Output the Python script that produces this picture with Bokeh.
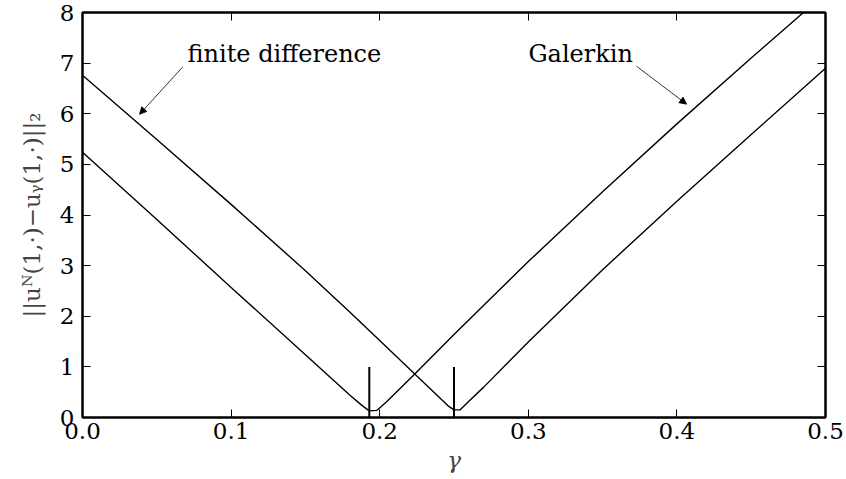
from bokeh.plotting import figure
from bokeh.models import Range1d, LinearAxis, FixedTicker, Label, Arrow, NormalHead, PrintfTickFormatter
from bokeh.embed import file_html
from bokeh.resources import INLINE

# Galerkin error curve
gal_x = [0.0, 0.05, 0.10, 0.15, 0.18, 0.188, 0.193, 0.198, 0.205, 0.2236, 0.25, 0.30, 0.35, 0.40, 0.45, 0.50]
gal_y = [5.24, 3.91, 2.57, 1.24, 0.44, 0.24, 0.13, 0.14, 0.32, 0.86, 1.64, 3.08, 4.46, 5.80, 7.10, 8.38]

# finite difference error curve
fd_x = [0.0, 0.05, 0.10, 0.15, 0.18, 0.20, 0.2236, 0.24, 0.246, 0.25, 0.254, 0.26, 0.27, 0.30, 0.35, 0.40, 0.45, 0.50]
fd_y = [6.76, 5.49, 4.21, 2.90, 2.08, 1.52, 0.86, 0.40, 0.23, 0.15, 0.15, 0.32, 0.60, 1.49, 2.92, 4.27, 5.59, 6.90]

# optimal gamma markers
mark_x = [0.193, 0.25]
mark_top = [1.0, 1.0]

x_ticks = [0.0, 0.1, 0.2, 0.3, 0.4, 0.5]
y_ticks = [0, 1, 2, 3, 4, 5, 6, 7, 8]

FONT = "DejaVu Serif"
FS = "23px"

p = figure(width=844, height=476, output_backend="svg", toolbar_location=None,
           x_range=Range1d(0, 0.5), y_range=Range1d(0, 8),
           min_border_left=82, min_border_right=19, min_border_top=12, min_border_bottom=59)
p.grid.visible = False
p.outline_line_color = "black"
p.outline_line_width = 2
p.background_fill_color = "white"
p.border_fill_color = "white"

p.line(gal_x, gal_y, line_color="black", line_width=1.4)
p.line(fd_x, fd_y, line_color="black", line_width=1.4)
p.segment(x0=mark_x, y0=[0, 0], x1=mark_x, y1=mark_top, line_color="black", line_width=2)

def style_axis(ax, show_labels=True):
    ax.axis_line_width = 2
    ax.axis_line_color = "black"
    ax.major_tick_in = 8
    ax.major_tick_out = 0
    ax.minor_tick_in = 0
    ax.minor_tick_out = 0
    ax.major_tick_line_color = "black"
    ax.major_tick_line_width = 1
    ax.major_label_text_font = FONT
    ax.major_label_text_font_size = FS
    ax.major_label_text_color = "black"
    if not show_labels:
        ax.major_label_text_font_size = "0px"
        ax.major_label_text_alpha = 0

xa = p.xaxis[0]
xa.ticker = FixedTicker(ticks=x_ticks)
xa.formatter = PrintfTickFormatter(format="%.1f")
style_axis(xa)
xa.major_label_standoff = 5
xa.axis_label = "γ"
xa.axis_label_text_font = FONT
xa.axis_label_text_font_size = FS
xa.axis_label_text_font_style = "italic"
xa.axis_label_standoff = 5

ya = p.yaxis[0]
ya.ticker = FixedTicker(ticks=y_ticks)
style_axis(ya)
ya.major_label_standoff = 8
ya.axis_label = "||uᴺ(1,·)−uᵧ(1,·)||₂"
ya.axis_label_text_font = FONT
ya.axis_label_text_font_size = FS
ya.axis_label_text_font_style = "normal"
ya.axis_label_standoff = 12

top = LinearAxis(ticker=FixedTicker(ticks=x_ticks))
style_axis(top, show_labels=False)
p.add_layout(top, "above")
right = LinearAxis(ticker=FixedTicker(ticks=y_ticks))
style_axis(right, show_labels=False)
p.add_layout(right, "right")

p.add_layout(Label(x=0.0707, y=7.19, text="finite difference", text_font=FONT,
                   text_font_size="24px", text_baseline="middle", text_color="black"))
p.add_layout(Label(x=0.3001, y=7.19, text="Galerkin", text_font=FONT,
                   text_font_size="24px", text_baseline="middle", text_color="black"))
p.add_layout(Arrow(x_start=0.0673, y_start=6.92, x_end=0.0384, y_end=5.99,
                   line_width=0.8, line_color="black",
                   end=NormalHead(size=7, fill_color="black", line_color="black", line_width=0.8)))
p.add_layout(Arrow(x_start=0.3728, y_start=6.94, x_end=0.4065, y_end=6.19,
                   line_width=0.8, line_color="black",
                   end=NormalHead(size=7, fill_color="black", line_color="black", line_width=0.8)))

open("out.html", "w").write(file_html(p, INLINE))
